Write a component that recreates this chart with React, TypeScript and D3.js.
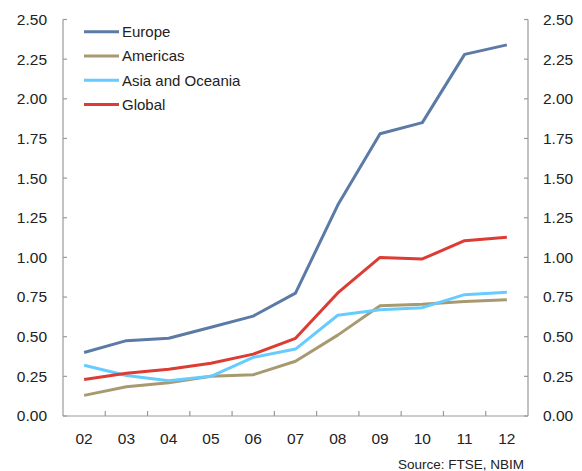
import React from "react";
import * as d3 from "d3";

const years = ["02", "03", "04", "05", "06", "07", "08", "09", "10", "11", "12"];
const europe = [0.40, 0.475, 0.49, 0.56, 0.63, 0.775, 1.33, 1.78, 1.85, 2.28, 2.34];
const americas = [0.13, 0.185, 0.21, 0.25, 0.26, 0.345, 0.51, 0.695, 0.705, 0.722, 0.733];
const asia = [0.32, 0.255, 0.222, 0.25, 0.37, 0.422, 0.635, 0.67, 0.683, 0.765, 0.78];
const global = [0.23, 0.27, 0.295, 0.333, 0.39, 0.49, 0.776, 1.0, 0.99, 1.105, 1.127];
const yTicks = [0, 0.25, 0.5, 0.75, 1.0, 1.25, 1.5, 1.75, 2.0, 2.25, 2.5];

const seriesNames = ["Europe", "Americas", "Asia and Oceania", "Global"];
const seriesData = [europe, americas, asia, global];
const seriesColors = ["#5b7aa6", "#a89a70", "#66ccff", "#dc3c33"];

export default function App() {
  const W = 582, H = 471;
  const left = 63, right = 528, top = 19.5, bottom = 416;
  const x = d3.scaleBand<string>().domain(years).range([left, right]);
  const y = d3.scaleLinear().domain([0, 2.5]).range([bottom, top]);
  const line = d3
    .line<number>()
    .x((_, i) => (x(years[i]) as number) + x.bandwidth() / 2)
    .y((d) => y(d));
  const axisColor = "#9a9a9a";
  const font = "'Liberation Sans', Arial, sans-serif";
  const textColor = "#222";
  return (
    <svg width={W} height={H} style={{ position: "absolute", left: 0, top: 0 }} fontFamily={font}>
      <rect width={W} height={H} fill="#fff" />
      <line x1={left} x2={left} y1={top} y2={bottom} stroke={axisColor} strokeWidth={1.2} />
      <line x1={right} x2={right} y1={top} y2={bottom} stroke={axisColor} strokeWidth={1.2} />
      <line x1={left} x2={right} y1={bottom} y2={bottom} stroke={axisColor} strokeWidth={1.2} />
      {yTicks.map((t) => (
        <g key={t}>
          <line x1={left} x2={left + 4} y1={y(t)} y2={y(t)} stroke={axisColor} strokeWidth={1.2} />
          <line x1={right - 4} x2={right} y1={y(t)} y2={y(t)} stroke={axisColor} strokeWidth={1.2} />
          <text x={47} y={y(t)} dy="0.35em" textAnchor="end" fontSize={15.5} fill={textColor}>
            {t.toFixed(2)}
          </text>
          <text x={543} y={y(t)} dy="0.35em" textAnchor="start" fontSize={15.5} fill={textColor}>
            {t.toFixed(2)}
          </text>
        </g>
      ))}
      {years.slice(1).map((yr) => (
        <line key={yr} x1={x(yr) as number} x2={x(yr) as number} y1={bottom} y2={bottom - 5} stroke={axisColor} strokeWidth={1.2} />
      ))}
      {years.map((yr) => (
        <text key={yr} x={(x(yr) as number) + x.bandwidth() / 2} y={439} dy="0.35em" textAnchor="middle" fontSize={15.5} fill={textColor}>
          {yr}
        </text>
      ))}
      {seriesData.map((s, i) => (
        <path key={seriesNames[i]} d={line(s) || ""} fill="none" stroke={seriesColors[i]} strokeWidth={3} strokeLinejoin="round" />
      ))}
      {seriesNames.map((n, i) => (
        <g key={n} transform={`translate(0, ${31.7 + i * 24.3})`}>
          <line x1={84} x2={119} y1={0} y2={0} stroke={seriesColors[i]} strokeWidth={3} />
          <text x={122} y={0} dy="0.35em" fontSize={15} fill={textColor}>{n}</text>
        </g>
      ))}
      <text x={524} y={464} dy="0.35em" textAnchor="end" fontSize={13.5} fill={textColor}>
        Source: FTSE, NBIM
      </text>
    </svg>
  );
}
